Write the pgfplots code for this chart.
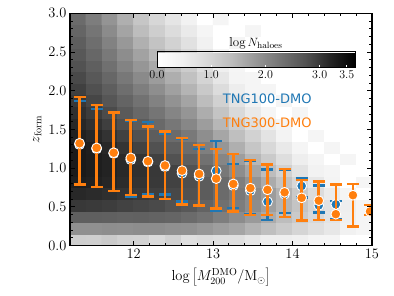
\documentclass[border=0pt]{standalone}
\usepackage{fontspec}
\usepackage{pgfplots}
\usepackage{pgfplotstable}
\pgfplotsset{compat=1.18}
\newfontfamily\dejavu{DejaVu Sans}
\definecolor{tabblue}{RGB}{31,119,180}
\definecolor{taborange}{RGB}{255,127,14}

\pgfplotstableread{
x y v
11.3 0.075 1.10
11.5 0.075 1.08
11.7 0.075 1.15
11.9 0.075 1.04
12.1 0.075 1.02
12.3 0.075 0.90
12.5 0.075 1.05
12.7 0.075 0.80
12.9 0.075 0.86
13.1 0.075 0.79
13.3 0.075 0.80
13.5 0.075 0.65
13.7 0.075 0.50
13.9 0.075 0.50
14.1 0.075 0.45
14.3 0.075 0.30
14.5 0.075 0.30
14.7 0.075 0
14.9 0.075 0
11.3 0.225 1.90
11.5 0.225 1.90
11.7 0.225 1.93
11.9 0.225 1.92
12.1 0.225 1.94
12.3 0.225 1.94
12.5 0.225 1.91
12.7 0.225 1.89
12.9 0.225 1.82
13.1 0.225 1.73
13.3 0.225 1.65
13.5 0.225 1.49
13.7 0.225 1.33
13.9 0.225 1.16
14.1 0.225 0.98
14.3 0.225 0.80
14.5 0.225 0.64
14.7 0.225 0.42
14.9 0.225 0.30
11.3 0.375 2.56
11.5 0.375 2.56
11.7 0.375 2.54
11.9 0.375 2.52
12.1 0.375 2.53
12.3 0.375 2.50
12.5 0.375 2.47
12.7 0.375 2.39
12.9 0.375 2.29
13.1 0.375 2.14
13.3 0.375 1.96
13.5 0.375 1.78
13.7 0.375 1.58
13.9 0.375 1.37
14.1 0.375 1.15
14.3 0.375 0.93
14.5 0.375 0.71
14.7 0.375 0.47
14.9 0.375 0.30
11.3 0.525 3.00
11.5 0.525 2.98
11.7 0.525 2.95
11.9 0.525 2.90
12.1 0.525 2.86
12.3 0.525 2.82
12.5 0.525 2.74
12.7 0.525 2.65
12.9 0.525 2.50
13.1 0.525 2.33
13.3 0.525 2.15
13.5 0.525 1.94
13.7 0.525 1.72
13.9 0.525 1.48
14.1 0.525 1.25
14.3 0.525 1.00
14.5 0.525 0.75
14.7 0.525 0.50
14.9 0.525 0.30
11.3 0.675 3.16
11.5 0.675 3.13
11.7 0.675 3.09
11.9 0.675 3.04
12.1 0.675 2.99
12.3 0.675 2.93
12.5 0.675 2.84
12.7 0.675 2.75
12.9 0.675 2.60
13.1 0.675 2.40
13.3 0.675 2.20
13.5 0.675 1.98
13.7 0.675 1.75
13.9 0.675 1.50
14.1 0.675 1.17
14.3 0.675 0.86
14.5 0.675 0.56
14.7 0.675 0.31
14.9 0.675 0
11.3 0.825 3.28
11.5 0.825 3.24
11.7 0.825 3.19
11.9 0.825 3.12
12.1 0.825 3.05
12.3 0.825 2.99
12.5 0.825 2.90
12.7 0.825 2.78
12.9 0.825 2.60
13.1 0.825 2.40
13.3 0.825 2.14
13.5 0.825 1.86
13.7 0.825 1.58
13.9 0.825 1.27
14.1 0.825 0.94
14.3 0.825 0.63
14.5 0.825 0.34
14.7 0.825 0
14.9 0.825 0.30
11.3 0.975 3.33
11.5 0.975 3.28
11.7 0.975 3.22
11.9 0.975 3.15
12.1 0.975 3.08
12.3 0.975 3.00
12.5 0.975 2.90
12.7 0.975 2.74
12.9 0.975 2.49
13.1 0.975 2.22
13.3 0.975 1.94
13.5 0.975 1.65
13.7 0.975 1.37
13.9 0.975 1.04
14.1 0.975 0.72
14.3 0.975 0.41
14.5 0.975 0.30
14.7 0.975 0
14.9 0.975 0
11.3 1.125 3.33
11.5 1.125 3.28
11.7 1.125 3.22
11.9 1.125 3.15
12.1 1.125 3.05
12.3 1.125 2.92
12.5 1.125 2.74
12.7 1.125 2.56
12.9 1.125 2.31
13.1 1.125 2.03
13.3 1.125 1.73
13.5 1.125 1.44
13.7 1.125 1.15
13.9 1.125 0.82
14.1 1.125 0.49
14.3 1.125 0.30
14.5 1.125 0
14.7 1.125 0.30
14.9 1.125 0
11.3 1.275 3.33
11.5 1.275 3.27
11.7 1.275 3.17
11.9 1.275 3.04
12.1 1.275 2.90
12.3 1.275 2.75
12.5 1.275 2.57
12.7 1.275 2.38
12.9 1.275 2.12
13.1 1.275 1.83
13.3 1.275 1.53
13.5 1.275 1.23
13.7 1.275 0.93
13.9 1.275 0.59
14.1 1.275 0.30
14.3 1.275 0
14.5 1.275 0.30
14.7 1.275 0
14.9 1.275 0
11.3 1.425 3.26
11.5 1.425 3.17
11.7 1.425 3.05
11.9 1.425 2.91
12.1 1.425 2.75
12.3 1.425 2.59
12.5 1.425 2.40
12.7 1.425 2.20
12.9 1.425 1.93
13.1 1.425 1.64
13.3 1.425 1.33
13.5 1.425 1.02
13.7 1.425 0.71
13.9 1.425 0.37
14.1 1.425 0
14.3 1.425 0.30
14.5 1.425 0
14.7 1.425 0
14.9 1.425 0
11.3 1.575 3.18
11.5 1.575 3.07
11.7 1.575 2.93
11.9 1.575 2.77
12.1 1.575 2.60
12.3 1.575 2.42
12.5 1.575 2.23
12.7 1.575 2.02
12.9 1.575 1.74
13.1 1.575 1.44
13.3 1.575 1.13
13.5 1.575 0.81
13.7 1.575 0.50
13.9 1.575 0.30
14.1 1.575 0
14.3 1.575 0
14.5 1.575 0
14.7 1.575 0
14.9 1.575 0
11.3 1.725 3.09
11.5 1.725 2.96
11.7 1.725 2.81
11.9 1.725 2.63
12.1 1.725 2.44
12.3 1.725 2.26
12.5 1.725 2.05
12.7 1.725 1.84
12.9 1.725 1.56
13.1 1.725 1.25
13.3 1.725 0.92
13.5 1.725 0.60
13.7 1.725 0.30
13.9 1.725 0
14.1 1.725 0.30
14.3 1.725 0
14.5 1.725 0
14.7 1.725 0
14.9 1.725 0
11.3 1.875 3.00
11.5 1.875 2.86
11.7 1.875 2.69
11.9 1.875 2.49
12.1 1.875 2.29
12.3 1.875 2.09
12.5 1.875 1.88
12.7 1.875 1.66
12.9 1.875 1.37
13.1 1.875 1.05
13.3 1.875 0.72
13.5 1.875 0.39
13.7 1.875 0
13.9 1.875 0.30
14.1 1.875 0
14.3 1.875 0
14.5 1.875 0
14.7 1.875 0
14.9 1.875 0
11.3 2.025 2.92
11.5 2.025 2.76
11.7 2.025 2.57
11.9 2.025 2.35
12.1 2.025 2.14
12.3 2.025 1.93
12.5 2.025 1.71
12.7 2.025 1.48
12.9 2.025 1.18
13.1 2.025 0.86
13.3 2.025 0.52
13.5 2.025 0.30
13.7 2.025 0.30
13.9 2.025 0
14.1 2.025 0
14.3 2.025 0
14.5 2.025 0
14.7 2.025 0
14.9 2.025 0
11.3 2.175 2.83
11.5 2.175 2.66
11.7 2.175 2.45
11.9 2.175 2.22
12.1 2.175 1.98
12.3 2.175 1.76
12.5 2.175 1.54
12.7 2.175 1.30
12.9 2.175 0.99
13.1 2.175 0.66
13.3 2.175 0.32
13.5 2.175 0.30
13.7 2.175 0
13.9 2.175 0
14.1 2.175 0
14.3 2.175 0
14.5 2.175 0
14.7 2.175 0
14.9 2.175 0
11.3 2.325 2.74
11.5 2.325 2.56
11.7 2.325 2.33
11.9 2.325 2.08
12.1 2.325 1.83
12.3 2.325 1.60
12.5 2.325 1.36
12.7 2.325 1.12
12.9 2.325 0.81
13.1 2.325 0.47
13.3 2.325 0.30
13.5 2.325 0
13.7 2.325 0
13.9 2.325 0
14.1 2.325 0
14.3 2.325 0
14.5 2.325 0
14.7 2.325 0
14.9 2.325 0
11.3 2.475 2.65
11.5 2.475 2.45
11.7 2.475 2.21
11.9 2.475 1.94
12.1 2.475 1.68
12.3 2.475 1.43
12.5 2.475 1.19
12.7 2.475 0.94
12.9 2.475 0.62
13.1 2.475 0.30
13.3 2.475 0
13.5 2.475 0
13.7 2.475 0
13.9 2.475 0
14.1 2.475 0
14.3 2.475 0
14.5 2.475 0
14.7 2.475 0
14.9 2.475 0
11.3 2.625 2.57
11.5 2.625 2.35
11.7 2.625 2.09
11.9 2.625 1.80
12.1 2.625 1.52
12.3 2.625 1.27
12.5 2.625 1.02
12.7 2.625 0.76
12.9 2.625 0.43
13.1 2.625 0
13.3 2.625 0.30
13.5 2.625 0
13.7 2.625 0
13.9 2.625 0
14.1 2.625 0
14.3 2.625 0
14.5 2.625 0
14.7 2.625 0
14.9 2.625 0
11.3 2.775 2.48
11.5 2.775 2.25
11.7 2.775 1.97
11.9 2.775 1.66
12.1 2.775 1.37
12.3 2.775 1.10
12.5 2.775 0.85
12.7 2.775 0.58
12.9 2.775 0.30
13.1 2.775 0
13.3 2.775 0
13.5 2.775 0.30
13.7 2.775 0
13.9 2.775 0
14.1 2.775 0
14.3 2.775 0
14.5 2.775 0
14.7 2.775 0
14.9 2.775 0
11.3 2.925 2.39
11.5 2.925 2.15
11.7 2.925 1.85
11.9 2.925 1.53
12.1 2.925 1.22
12.3 2.925 0.94
12.5 2.925 0.67
12.7 2.925 0.40
12.9 2.925 0
13.1 2.925 0.30
13.3 2.925 0
13.5 2.925 0
13.7 2.925 0
13.9 2.925 0
14.1 2.925 0
14.3 2.925 0
14.5 2.925 0
14.7 2.925 0
14.9 2.925 0
}\hist

\pgfplotstableread{
x y lo hi
11.32 1.305 0.79 1.864
11.535 1.25 0.755 1.761
11.75 1.19 0.706 1.71
11.965 1.11 0.629 1.615
12.18 1.08 0.659 1.593
12.395 1.02 0.663 1.447
12.61 0.935 0.568 1.385
12.825 0.895 0.525 1.249
13.04 0.965 0.452 1.348
13.255 0.775 0.487 1.055
13.47 0.71 0.41 1.10
13.685 0.568 0.332 0.982
13.90 0.665 0.422 0.985
14.115 0.771 0.62 0.874
14.33 0.52 0.43 0.775
14.545 0.534 0.336 0.575
}\tngone

\pgfplotstableread{
x y lo hi
11.32 1.322 0.792 1.916
11.535 1.262 0.758 1.818
11.75 1.20 0.706 1.718
11.965 1.133 0.655 1.624
12.18 1.09 0.637 1.537
12.395 1.035 0.60 1.475
12.61 0.969 0.53 1.391
12.825 0.926 0.52 1.297
13.04 0.866 0.48 1.249
13.255 0.797 0.44 1.18
13.47 0.743 0.40 1.109
13.685 0.721 0.40 1.047
13.90 0.689 0.37 0.99
14.115 0.618 0.323 0.85
14.33 0.581 0.332 0.827
14.545 0.407 0.332 0.792
14.76 0.652 0.25 0.80
14.975 0.442 0.40 0.528
}\tngthree

\begin{document}
\begin{tikzpicture}
\path[use as bounding box] (-70pt,-50.3pt) rectangle (324pt,245.7pt);
\begin{axis}[
  at={(0pt,0pt)}, anchor=south west,
  scale only axis, width=302pt, height=232.4pt,
  xmin=11.2, xmax=15, ymin=0, ymax=3,
  xtick={12,13,14,15}, minor x tick num=4,
  ytick={0,0.5,1,1.5,2,2.5,3}, minor y tick num=4,
  tick align=inside,
  major tick length=5pt, minor tick length=3pt,
  every tick/.style={black, line width=1pt},
  axis line style={line width=1.4pt},
  yticklabel style={/pgf/number format/.cd, fixed, fixed zerofill, precision=1},
  tick label style={font=\fontsize{14.5}{17}\selectfont},
  label style={font=\fontsize{14.5}{17}\selectfont},
  xlabel={$\log\left[M_{200}^{\rm DMO}/{\rm M_\odot}\right]$},
  xlabel style={yshift=-3pt},
  ylabel={$z_{\rm form}$},
  colormap={greys}{rgb255=(255,255,255) rgb255=(240,240,240) rgb255=(217,217,217) rgb255=(189,189,189) rgb255=(150,150,150) rgb255=(115,115,115) rgb255=(82,82,82) rgb255=(37,37,37) rgb255=(0,0,0)},
  point meta min=0, point meta max=3.65,
  colorbar horizontal,
  colorbar style={
    at={(87pt,186.7pt)}, anchor=south west,
    scale only axis, width=198pt, height=16pt,
    xtick={0,1,2,3,3.5},
    xtick pos=left, xticklabel pos=lower,
    tick align=inside, major tick length=3pt,
    every tick/.style={white, line width=0.8pt},
    axis line style={line width=1pt},
    xticklabel style={/pgf/number format/.cd, fixed, fixed zerofill, precision=1},
    tick label style={font=\fontsize{13}{15}\selectfont},
    xlabel={$\log N_{\rm haloes}$},
    xlabel style={at={(0.5,1)}, anchor=south, inner sep=2pt, font=\fontsize{13}{15}\selectfont},
  },
  clip marker paths=true,
  axis on top,
]
\addplot[matrix plot*, mesh/cols=19, point meta=explicit] table[x=x, y=y, meta=v] {\hist};

\addplot[only marks, mark=*, mark size=4.9pt,
  mark options={fill=tabblue, draw=white, line width=0.9pt},
  error bars/.cd, y dir=both, y explicit,
  error bar style={line width=2.4pt, color=tabblue},
  error mark options={rotate=90, mark size=6pt, line width=2.4pt, color=tabblue}]
  table[x=x, y=y, y error plus expr=\thisrow{hi}-\thisrow{y}, y error minus expr=\thisrow{y}-\thisrow{lo}] {\tngone};

\addplot[only marks, mark=*, mark size=4.9pt,
  mark options={fill=taborange, draw=white, line width=0.9pt},
  error bars/.cd, y dir=both, y explicit,
  error bar style={line width=2.6pt, color=taborange},
  error mark options={rotate=90, mark size=6pt, line width=2.4pt, color=taborange}]
  table[x=x, y=y, y error plus expr=\thisrow{hi}-\thisrow{y}, y error minus expr=\thisrow{y}-\thisrow{lo}] {\tngthree};

\node[anchor=west, inner sep=0pt, text=tabblue, font=\dejavu\fontsize{13}{15}\selectfont] at (rel axis cs:0.5056,0.631) {TNG100-DMO};
\node[anchor=west, inner sep=0pt, text=taborange, font=\dejavu\fontsize{13}{15}\selectfont] at (rel axis cs:0.5056,0.528) {TNG300-DMO};
\end{axis}
\end{tikzpicture}
\end{document}
